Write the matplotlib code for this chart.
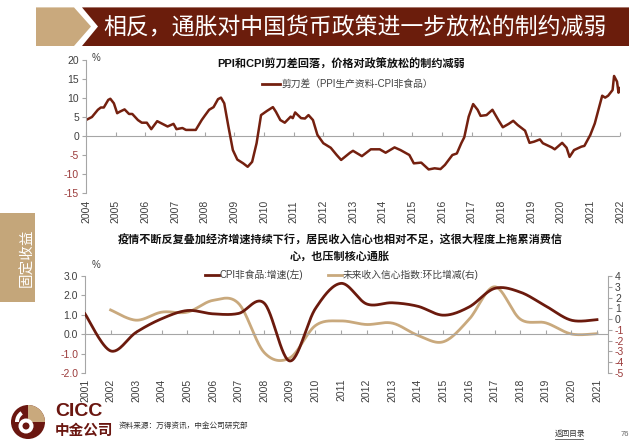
import numpy as np
import matplotlib
matplotlib.use('Agg')
import matplotlib.pyplot as plt
from matplotlib.patches import Polygon, Rectangle, Circle, Wedge
from matplotlib.lines import Line2D

plt.rcParams['font.family'] = ['Liberation Sans', 'Noto Sans CJK SC']

DARK = '#6e1c0f'
TAN = '#c9a97d'
RED_TXT = '#9b3a3a'
GREY = '#a6a6a6'
TXT = '#404040'

# 上图：剪刀差（PPI生产资料-CPI非食品），月度，读图估计
spread_t = [2004.0, 2004.2, 2004.4, 2004.5, 2004.6, 2004.75, 2004.82, 2004.94,
            2005.05, 2005.14, 2005.3, 2005.45, 2005.56, 2005.75, 2005.88,
            2006.05, 2006.2, 2006.4, 2006.55, 2006.75, 2006.95,
            2007.05, 2007.25, 2007.37, 2007.7, 2007.9,
            2008.0, 2008.15, 2008.3, 2008.45, 2008.55, 2008.66, 2008.8, 2008.95,
            2009.1, 2009.3, 2009.45, 2009.6, 2009.75, 2009.9,
            2010.1, 2010.3, 2010.4, 2010.55, 2010.7, 2010.9, 2010.97,
            2011.05, 2011.25, 2011.38, 2011.5, 2011.65, 2011.8,
            2012.0, 2012.25, 2012.45, 2012.6, 2012.9,
            2013.0, 2013.3, 2013.6, 2013.9,
            2014.1, 2014.4, 2014.6, 2014.9,
            2015.05, 2015.3, 2015.55, 2015.75, 2015.95,
            2016.1, 2016.35, 2016.5, 2016.65, 2016.75, 2016.9,
            2017.05, 2017.2, 2017.3, 2017.5, 2017.7, 2017.9,
            2018.05, 2018.25, 2018.4, 2018.55, 2018.8, 2018.95,
            2019.1, 2019.3, 2019.4, 2019.7, 2019.8,
            2020.05, 2020.2, 2020.3, 2020.45, 2020.7, 2020.8,
            2021.0, 2021.15, 2021.3, 2021.4, 2021.5, 2021.6, 2021.75, 2021.8,
            2021.9, 2021.95, 2022.0]
spread_v = [4.2, 5.0, 6.9, 7.5, 7.5, 9.5, 9.8, 8.6,
            6.0, 6.4, 7.0, 5.8, 5.8, 4.2, 3.5,
            3.5, 1.8, 3.9, 3.3, 2.5, 3.2,
            1.8, 2.1, 1.6, 1.6, 4.2,
            5.3, 6.9, 7.6, 9.7, 10.1, 8.6, 2.5, -3.7,
            -6.2, -7.2, -8.1, -6.8, -1.9, 5.5,
            6.6, 7.6, 6.4, 4.2, 3.5, 5.1, 4.7,
            6.2, 4.7, 4.6, 5.5, 4.2, 0.3,
            -1.9, -3.1, -5.0, -6.3, -4.4,
            -3.9, -5.3, -3.5, -3.5,
            -4.4, -3.0, -3.7, -5.0,
            -7.2, -7.0, -8.8, -8.5, -8.7,
            -7.6, -5.0, -4.6, -1.9, -0.35, 5.1,
            8.4, 6.9, 5.3, 5.5, 6.9, 4.2,
            2.3, 3.2, 4.0, 2.9, 1.4, -1.8,
            -1.5, -0.9, -1.9, -3.0, -3.5,
            -1.8, -3.1, -5.5, -3.7, -2.8, -2.6,
            0.3, 3.3, 7.7, 10.6, 10.1, 10.6, 12.1, 15.8,
            14.3, 11.4, 12.6]
top_years = list(range(2004, 2023))
top_yticks = [20, 15, 10, 5, 0, -5, -10, -15]

# 下图：年度
years = list(range(2001, 2022))
cpi_nonfood = [1.05, -0.86, 0.1, 0.8, 1.22, 1.05, 1.07, 1.6, -1.38, 1.32, 2.62,
               1.56, 1.62, 1.44, 0.98, 1.4, 2.36, 2.17, 1.45, 0.72, 0.75]
conf_years = list(range(2002, 2022))
confidence = [0.85, -0.1, 0.65, 0.65, 1.74, 1.45, -3.1, -3.6, -0.6, -0.17,
              -0.5, -0.37, -1.5, -2.1, -0.03, 3.0, 0.0, -0.35, -1.38, -1.35]
left_ticks = [3.0, 2.0, 1.0, 0.0, -1.0, -2.0]
right_ticks = [4, 3, 2, 1, 0, -1, -2, -3, -4, -5]


def smooth(x, y, n=30):
    # Excel 风格的平滑折线（贝塞尔）
    x = np.asarray(x, float)
    y = np.asarray(y, float)
    pts = np.column_stack([x, y])
    out = []
    for i in range(len(pts) - 1):
        p0 = pts[max(i - 1, 0)]
        p1 = pts[i]
        p2 = pts[i + 1]
        p3 = pts[min(i + 2, len(pts) - 1)]
        c1 = p1 + (p2 - p0) / 6
        c2 = p2 - (p3 - p1) / 6
        t = np.linspace(0, 1, n)[:, None]
        seg = ((1 - t) ** 3) * p1 + 3 * ((1 - t) ** 2) * t * c1 + 3 * (1 - t) * t ** 2 * c2 + t ** 3 * p2
        out.append(seg if i == 0 else seg[1:])
    out = np.vstack(out)
    return out[:, 0], out[:, 1]


W, H = 640, 447
fig = plt.figure(figsize=(6.4, 4.47), dpi=100)

# 页面装饰
bg = fig.add_axes([0, 0, 1, 1])
bg.set_xlim(0, W)
bg.set_ylim(H, 0)
bg.axis('off')
bg.add_patch(Polygon([(36, 7.4), (74, 7.4), (91, 26.5), (74, 46), (36, 46)],
                     closed=True, color=TAN, lw=0))
bg.add_patch(Polygon([(82, 7.4), (629, 7.4), (629, 46), (82, 46), (98, 26.5)],
                     closed=True, color='#6b1d0c', lw=0))
bg.text(103, 26.5, '相反，通胀对中国货币政策进一步放松的制约减弱', color='white',
        fontsize=16.5, va='center', ha='left', family=['Noto Sans CJK SC'])
bg.add_patch(Rectangle((0, 213), 35, 89, color='#c4a67a', lw=0))
bg.text(27, 258, '固定收益', color='white', fontsize=10.5, rotation=90,
        va='center', ha='center', family=['Noto Sans CJK SC'])

# logo
bg.add_patch(Circle((28, 422), 17, color='#6a1610', lw=0))
bg.add_patch(Wedge((28, 422), 17, -90, 0, color='#c9a97d', lw=0))
bg.add_patch(Circle((26, 426), 7.5, color='white', lw=0))
bg.add_patch(Circle((26, 426), 3.5, color='#6a1610', lw=0))
bg.add_patch(Wedge((28, 422), 13, 180, 235, width=4, color='white', lw=0))
bg.text(55, 412, 'CICC', color='#6a1610', fontsize=14, fontweight='bold', va='center')
bg.text(55, 430, '中金公司', color='#6a1610', fontsize=10.5, fontweight='bold',
        va='center', family=['Noto Sans CJK SC'])
bg.text(119, 426, '资料来源：万得资讯，中金公司研究部', color='#333333', fontsize=5.5,
        va='center', family=['Noto Sans CJK SC'])
bg.text(555, 434, '返回目录', color='#333333', fontsize=5.5, va='center',
        family=['Noto Sans CJK SC'])
bg.plot([555, 583], [438.5, 438.5], color='#333333', lw=0.5)
bg.text(621, 434, '76', color='#666666', fontsize=5.5, va='center')

# 上图
ax1 = fig.add_axes([86 / W, 1 - 193 / H, (620 - 86) / W, 133 / H])
ax1.set_facecolor('none')
ax1.plot(spread_t, spread_v, color='#74200f', lw=1.8, solid_joinstyle='round')
ax1.set_xlim(2004, 2022)
ax1.set_ylim(-15, 20)
ax1.axhline(0, color=GREY, lw=0.8, zorder=0)
for s in ['top', 'right', 'bottom']:
    ax1.spines[s].set_visible(False)
ax1.spines['left'].set_color(GREY)
ax1.spines['left'].set_linewidth(0.8)
ax1.set_yticks(top_yticks)
ax1.set_yticklabels([str(v) for v in top_yticks])
ax1.tick_params(axis='y', length=3, width=0.8, color=GREY, labelsize=7.5,
                labelcolor=TXT, pad=2)
for lab, v in zip(ax1.get_yticklabels(), top_yticks):
    if v < 0:
        lab.set_color(RED_TXT)
ax1.set_xticks(top_years)
ax1.set_xticklabels([str(y) for y in top_years], rotation=90)
ax1.tick_params(axis='x', length=0, labelsize=7.5, labelcolor=TXT, pad=5)
sx1 = ax1.secondary_xaxis(15 / 35)
sx1.set_xticks(top_years)
sx1.set_xticklabels([])
sx1.tick_params(direction='in', length=3, color=GREY, width=0.8)
sx1.spines['bottom'].set_visible(False)

bg.text(92, 58, '%', fontsize=7, color=TXT, va='center')
bg.text(341, 64, 'PPI和CPI剪刀差回落，价格对政策放松的制约减弱', fontsize=8,
        fontweight='bold', ha='center', va='center', color='#111111')
fig.legend(handles=[Line2D([], [], color='#74200f', lw=2)],
           labels=['剪刀差（PPI生产资料-CPI非食品）'], loc='center left',
           bbox_to_anchor=(262 / W, 1 - 84 / H), frameon=False, fontsize=7,
           handlelength=1.8, handletextpad=0.2, borderpad=0, borderaxespad=0,
           labelcolor=TXT)

# 下图
ax2 = fig.add_axes([85 / W, 1 - 373 / H, (608 - 85) / W, 97 / H])
ax2.set_facecolor('none')
ax3 = ax2.twinx()
sx, sy = smooth(years, cpi_nonfood)
ax2.plot(sx, sy, color='#6b1a0d', lw=2, zorder=3)
tx, ty = smooth(conf_years, confidence)
ax3.plot(tx, ty, color=TAN, lw=2, zorder=2)
ax2.set_zorder(ax3.get_zorder() + 1)
ax2.patch.set_visible(False)
ax2.set_xlim(2001, 2021.43)
ax2.set_ylim(-2, 3)
ax3.set_ylim(-5, 4)
ax2.axhline(0, color=GREY, lw=0.8, zorder=0)
for a in (ax2, ax3):
    for s in ['top', 'bottom']:
        a.spines[s].set_visible(False)
ax2.spines['right'].set_visible(False)
ax3.spines['left'].set_visible(False)
ax2.spines['left'].set_color(GREY)
ax3.spines['right'].set_color(GREY)
ax2.spines['left'].set_linewidth(0.8)
ax3.spines['right'].set_linewidth(0.8)
ax2.set_yticks(left_ticks)
ax2.set_yticklabels(['%.1f' % v for v in left_ticks])
ax3.set_yticks(right_ticks)
ax3.set_yticklabels([str(v) for v in right_ticks])
for a, ticks in ((ax2, left_ticks), (ax3, right_ticks)):
    a.tick_params(axis='y', length=3, width=0.8, color=GREY, labelsize=7.5,
                  labelcolor=TXT, pad=2)
    for lab, v in zip(a.get_yticklabels(), ticks):
        if v < 0:
            lab.set_color(RED_TXT)
ax2.set_xticks(years)
ax2.set_xticklabels([str(y) for y in years], rotation=90)
ax2.tick_params(axis='x', length=0, labelsize=7.5, labelcolor=TXT, pad=4)
sx2 = ax2.secondary_xaxis(2 / 5)
sx2.set_xticks(years)
sx2.set_xticklabels([])
sx2.tick_params(direction='in', length=3, color=GREY, width=0.8)
sx2.spines['bottom'].set_visible(False)

bg.text(92, 265, '%', fontsize=7, color=TXT, va='center')
bg.text(340, 240, '疫情不断反复叠加经济增速持续下行，居民收入信心也相对不足，这很大程度上拖累消费信',
        fontsize=8, fontweight='bold', ha='center', va='center', color='#111111')
bg.text(340, 257, '心，也压制核心通胀', fontsize=8, fontweight='bold', ha='center',
        va='center', color='#111111')
fig.legend(handles=[Line2D([], [], color='#6b1a0d', lw=2), Line2D([], [], color=TAN, lw=2)],
           labels=['CPI非食品:增速(左)', '未来收入信心指数:环比增减(右)'], loc='center left',
           bbox_to_anchor=(205 / W, 1 - 275 / H), frameon=False, fontsize=7, ncol=2,
           handlelength=1.4, handletextpad=0.1, columnspacing=2.6, borderpad=0,
           borderaxespad=0, labelcolor=TXT)

fig.savefig('out.png', dpi=100)
